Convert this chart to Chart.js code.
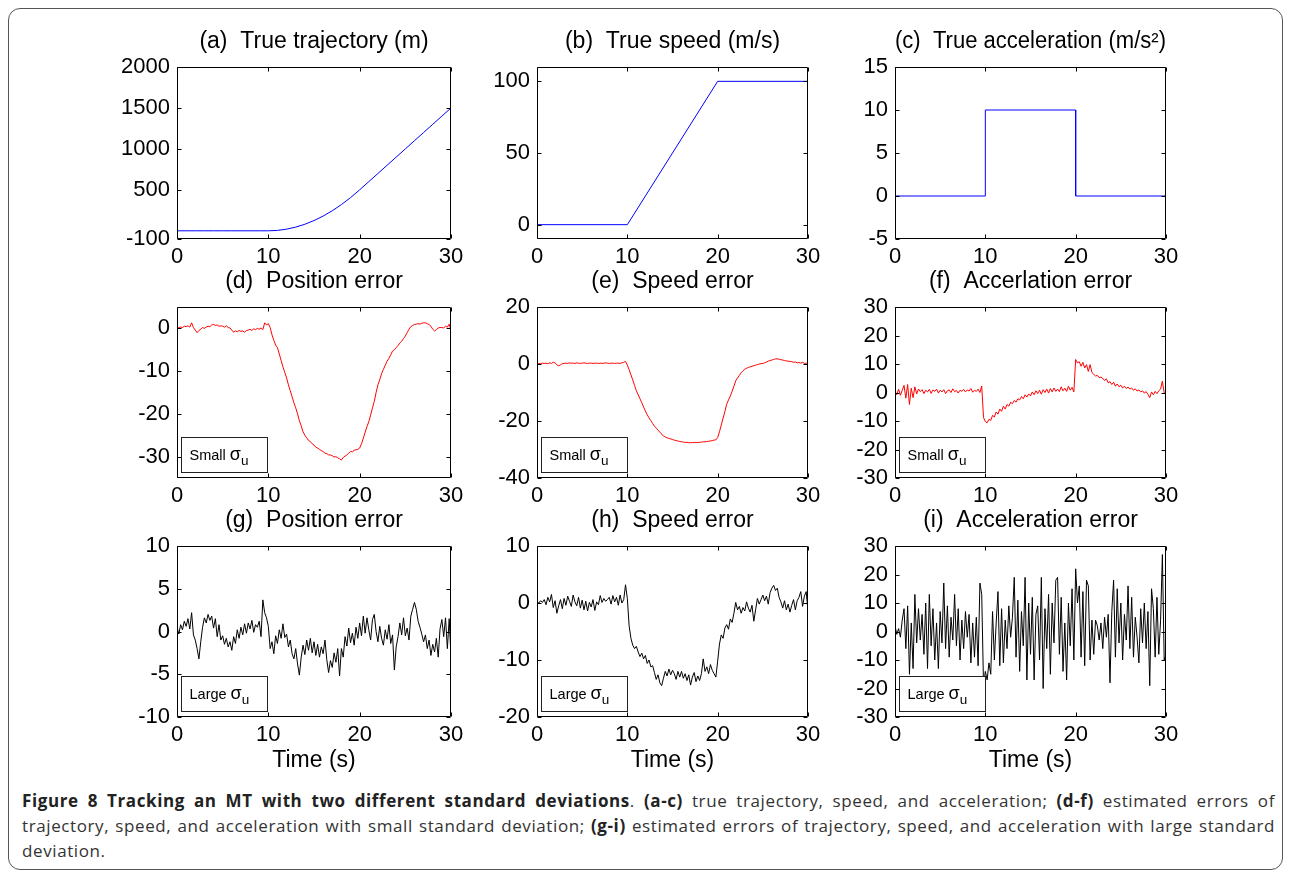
<!DOCTYPE html>
<html><head><meta charset="utf-8">
<script src="https://cdn.jsdelivr.net/npm/chart.js@4.4.1/dist/chart.umd.min.js"></script>
<style>
html,body{margin:0;padding:0;background:#fff;}
body{width:1289px;height:875px;position:relative;overflow:hidden;font-family:"Liberation Sans",Arial,sans-serif;}
#frame{position:absolute;left:8px;top:8px;width:1275px;height:862px;border:1px solid #555;border-radius:12px;box-sizing:border-box;}
canvas{position:absolute;}
#caption{position:absolute;left:22px;top:788px;width:1253px;font-family:"Open Sans",sans-serif;font-size:17px;letter-spacing:0.6px;line-height:25px;color:#333;}
#caption div{white-space:nowrap;text-align:justify;text-align-last:justify;}
#caption div.last{text-align-last:left;}
#caption b{color:#222;}
</style></head>
<body>
<div id="frame"></div>
<div id="caption">
<div><b>Figure 8 Tracking an MT with two different standard deviations</b>. <b>(a-c)</b> true trajectory, speed, and acceleration; <b>(d-f)</b> estimated errors of</div>
<div>trajectory, speed, and acceleration with small standard deviation; <b>(g-i)</b> estimated errors of trajectory, speed, and acceleration with large standard</div>
<div class="last">deviation.</div>
</div>
<script>
// ---------- DATA ----------
const X_TICKS = [0, 10, 20, 30];

const trajTime = [0,1,2,3,4,5,6,7,8,9,10,11,12,13,14,15,16,17,18,19,20,21,22,23,24,25,26,27,28,29,30];
const trajectory = [0,0,0,0,0,0,0,0,0,0,0,5,20,45,80,125,180,245,320,405,500,600,700,800,900,1000,1100,1200,1300,1400,1500];

const speedTime = [0, 10, 20, 30];
const speed = [0, 0, 100, 100];

const accelTime = [0, 10, 10, 20, 20, 30];
const accel = [0, 0, 10, 10, 0, 0];

// error series sampled every 0.2 s from 0 to 30 s (151 samples)
const sampleTime = Array.from({length: 151}, (_, i) => Math.round(i * 2) / 10);

const posErrSmall = [
 0.0,0.2,0.3,0.2,0.5, 0.4,0.6,0.3,1.3,0.2, -0.4,-1.0,-0.5,-0.2,0.2, 0.0,0.3,0.5,0.4,0.8,
 0.9,0.7,0.8,0.5,0.6, 0.5,0.3,0.6,0.2,0.1, -0.4,-0.9,-0.6,-0.8,-0.5, -0.7,-0.6,-0.9,-0.5,-0.4,
 -0.2,-0.5,-0.1,-0.3,0.0, -0.2,0.1,-0.3,1.3,0.8, 1.1,0.2,-1.5,-2.8,-3.9, -4.5,-6.0,-7.5,-9.0,-10.3,
 -11.6,-13.2,-14.6,-16.0,-17.4, -18.6,-20.0,-21.6,-22.8,-24.2, -25.0,-25.6,-26.2,-26.5,-27.0, -27.3,-27.8,-28.0,-28.3,-28.6,
 -28.8,-29.2,-29.3,-29.6,-29.6, -29.8,-30.1,-30.0,-30.3,-30.5, -30.8,-30.2,-29.9,-29.6,-29.2, -28.8,-28.9,-28.5,-28.4,-28.3,
 -28.0,-27.0,-25.7,-24.3,-23.0, -21.8,-20.3,-18.6,-17.1,-15.0, -13.2,-12.0,-10.6,-9.6,-8.6, -7.7,-7.0,-6.2,-5.3,-5.0,
 -4.5,-4.0,-3.4,-3.0,-2.4, -1.8,-1.0,-0.2,0.4,0.7, 0.9,1.0,1.1,1.0,1.2, 1.3,1.3,1.1,0.9,0.5,
 -0.2,-0.6,-0.3,0.1,0.2, 0.2,0.1,0.5,0.3,1.0, -0.5];

const speedErrSmall = [
 0.0,0.2,0.1,0.3,0.2, 0.3,0.1,0.4,0.2,0.6, 0.4,-0.3,-0.6,-0.3,0.1, 0.2,0.3,0.2,0.4,0.3,
 0.3,0.2,0.4,0.3,0.2, 0.3,0.4,0.3,0.2,0.3, 0.3,0.2,0.3,0.3,0.2, 0.3,0.2,0.3,0.4,0.3,
 0.2,0.3,0.3,0.2,0.3, 0.3,0.2,0.4,0.6,0.9, -0.4,-2.0,-3.8,-5.6,-7.5, -9.4,-10.8,-12.2,-13.6,-15.1,
 -16.5,-17.8,-18.9,-19.9,-20.9, -21.8,-22.5,-23.2,-23.9,-24.6, -25.3,-25.6,-25.9,-26.1,-26.3, -26.5,-26.7,-26.9,-27.0,-27.2,
 -27.3,-27.4,-27.5,-27.5,-27.6, -27.6,-27.6,-27.5,-27.6,-27.5, -27.5,-27.4,-27.3,-27.3,-27.2, -27.1,-27.0,-26.9,-26.7,-26.6,
 -25.8,-23.8,-21.4,-19.0,-16.7, -14.1,-12.6,-11.2,-9.6,-7.8, -5.9,-4.9,-4.0,-3.1,-2.4, -1.8,-1.5,-1.2,-1.0,-0.8,
 -0.6,-0.4,-0.2,0.0,0.1, 0.2,0.4,0.7,1.0,1.2, 1.4,1.6,1.8,1.8,1.7, 1.5,1.4,1.2,1.1,1.0,
 0.9,0.8,0.6,0.7,0.4, 0.5,0.3,0.6,0.2,0.3, 0.2];

const accErrSmall = [
 0.5,-0.8,1.2,-1.0,0.8, 2.5,-2.0,2.8,-4.2,1.5, -1.8,2.0,-0.5,1.2,0.3, 1.0,-0.4,0.8,0.2,1.1,
 -0.3,0.9,0.4,1.2,-0.2, 0.8,0.2,1.0,-0.4,0.6, 0.9,0.0,1.3,0.3,0.7, -0.2,0.8,0.4,1.1,0.2,
 0.9,0.5,1.4,0.1,0.8, 0.4,1.2,0.0,2.3,-8.8, -10.2,-10.6,-9.4,-9.8,-8.0, -8.6,-6.8,-7.6,-5.8,-6.6,
 -4.8,-5.8,-4.2,-4.8,-3.4, -3.9,-2.8,-3.4,-2.2,-2.6, -1.4,-2.2,-0.8,-1.6,-0.5, -1.2,0.2,-0.8,0.6,-0.4,
 0.8,-0.6,1.0,0.0,1.2, -0.2,1.4,0.2,1.6,0.4, 1.2,0.3,2.0,0.6,1.5, 0.4,2.2,0.8,1.8,0.2,
 11.6,10.4,10.8,9.2,10.6, 8.6,9.8,7.4,9.8,7.0, 6.4,5.8,6.0,5.2,5.4, 5.0,4.2,4.8,3.4,3.8,
 2.8,3.6,2.2,3.0,2.0, 2.6,1.6,2.2,1.4,1.9, 1.2,1.6,0.8,1.3,0.5, 0.9,0.2,0.6,-0.2,0.3,
 -0.6,-1.8,0.2,-0.8,0.4, -0.4,0.6,1.2,4.0,-0.2, -0.6];

const posErrLarge = [
 0.5,-0.3,0.8,0.2,1.2, 0.6,1.5,0.3,2.2,-0.4, -1.0,-2.0,-3.2,-1.2,0.5, 1.6,1.0,2.0,1.3,1.8,
 0.4,1.5,-0.6,0.8,-1.0, -0.5,-1.5,-0.8,-1.8,-1.2, -2.2,-0.6,-1.4,0.2,-0.8, 0.5,-0.4,0.9,-0.2,1.0,
 0.3,1.3,-0.1,0.8,0.5, 1.2,-0.6,3.7,2.2,1.6, 0.6,-2.0,-1.2,-2.6,-0.5, -1.4,0.2,-0.8,0.9,-0.7,
 -0.3,-1.8,-1.0,-2.6,-3.2, -2.0,-3.8,-5.1,-3.0,-1.6, -2.7,-1.0,-2.2,-0.8,-2.5, -1.2,-2.8,-1.5,-3.0,-1.8,
 -2.6,-1.0,-3.3,-4.8,-3.4, -4.2,-2.5,-3.6,-2.0,-5.2, -2.0,-3.0,-0.6,-1.7,0.4, -1.3,-0.2,-1.6,0.5,-0.8,
 1.0,-0.5,1.8,-0.2,1.6, 0.2,-1.0,1.4,2.0,0.0, -1.2,0.6,-0.8,-1.6,0.2, -0.9,0.8,-1.4,-0.4,-4.5,
 -1.8,-0.6,1.0,-0.4,1.6, -0.5,0.4,-1.0,1.8,2.6, 3.4,2.6,1.2,0.5,-0.3, -1.2,-0.4,-2.0,-1.0,-2.8,
 -1.5,-2.4,-0.8,-3.0,0.3, 1.4,-0.6,1.6,-2.0,1.5, -3.0];

const speedErrLarge = [
 0.2,0.0,0.4,0.1,0.6, -0.3,1.0,0.2,1.5,-0.8, 0.4,-1.8,-0.5,0.6,-1.0, 0.8,-0.4,1.2,0.3,-0.6,
 1.4,0.2,-0.5,1.0,-0.9, 0.5,-1.2,0.3,-1.4,0.1, -0.7,0.6,-1.3,0.2,-0.3, 1.3,0.1,0.8,0.3,0.6,
 1.0,-0.2,1.3,0.2,1.0, -0.4,1.4,0.0,0.6,3.2, 0.8,-4.0,-6.2,-7.4,-8.0, -7.6,-8.6,-9.4,-8.8,-9.8,
 -9.2,-10.6,-10.0,-11.2,-11.0, -12.2,-13.4,-12.6,-14.0,-14.5, -13.2,-12.0,-12.8,-11.6,-12.6, -11.8,-12.4,-13.4,-12.0,-13.0,
 -12.0,-13.2,-12.4,-13.6,-12.6, -14.4,-13.0,-12.2,-13.8,-12.8, -13.6,-12.4,-9.8,-12.0,-11.2, -12.4,-10.8,-11.8,-12.4,-13.0,
 -10.2,-7.2,-5.6,-6.2,-4.4, -3.8,-4.6,-2.8,-3.4,-1.8, 0.1,-1.2,-0.6,-1.8,-0.8, -1.4,0.2,-0.9,-1.6,-0.4,
 -3.2,-1.2,0.8,-0.2,0.6, 1.4,0.4,1.2,-0.2,1.8, 2.6,3.1,2.2,2.6,1.0, 0.2,-0.9,0.4,-1.2,-0.2,
 -1.6,-0.4,0.6,-1.2,0.4, 1.0,2.0,-0.6,1.2,2.0, -1.5];

const accErrLarge = [
 2,-1,1,-2,4, 8,-6,9,-15,3, -13,13,-4,8,-3, 6,-8,10,-13,13,
 -5,8,-10,3,-13, 7,-4,17,-6,9, -9,5,-3,13,-5, 8,-10,4,-6,7,
 -2,6,-11,3,-9, 5,-12,17,13,-19, -14,-17,-11,-15,7, -10,3,14,-12,8,
 -11,4,-6,9,-2, 5,19,-9,11,-14, 7,-5,19,-17,10, -8,12,-17,6,9,
 -10,19,-20,8,-6, 13,-15,10,-4,18, 19,-8,12,-14,3, -17,10,-5,15,-10,
 22,10,16,-9,14, -12,18,16,-10,4, -8,4,2,-3,3, -6,5,-2,6,-18,
 7,18,-9,15,-4, 10,-10,6,-3,16, -6,12,-9,5,-2, -11,8,-4,10,-6,
 7,-19,15,8,-9, 12,-8,4,27,-10, -8];

const yTicksA = [-100, 500, 1000, 1500, 2000];
const yTicksB = [0, 50, 100];
const yTicksC = [-5, 0, 5, 10, 15];
const yTicksD = [-30, -20, -10, 0];
const yTicksE = [-40, -20, 0, 20];
const yTicksF = [-30, -20, -10, 0, 10, 20, 30];
const yTicksG = [-10, -5, 0, 5, 10];
const yTicksH = [-20, -10, 0, 10];
const yTicksI = [-30, -20, -10, 0, 10, 20, 30];

// ---------- LAYOUT ----------
const FONT = '"Liberation Sans", Arial, sans-serif';
const COL_X = [177, 537, 895];
const COL_W = [274, 271, 271];
const ROW_Y = [67, 307, 546];
const ROW_H = [172, 171, 171];

const framePlugin = {
  id: 'mFrame',
  afterDatasetsDraw(chart) {
    const {ctx, chartArea: a, scales} = chart;
    const L = Math.round(a.left) + 0.5, R = Math.round(a.right) - 0.5;
    const T = Math.round(a.top) + 0.5, B = Math.round(a.bottom) - 0.5;
    ctx.save();
    ctx.strokeStyle = '#000';
    ctx.lineWidth = 1;
    ctx.beginPath();
    ctx.rect(L, T, R - L, B - T);
    const tl = 4;
    scales.x.ticks.forEach(t => {
      const px = Math.round(scales.x.getPixelForValue(t.value)) + 0.5;
      ctx.moveTo(px, B); ctx.lineTo(px, B - tl);
      ctx.moveTo(px, T); ctx.lineTo(px, T + tl);
    });
    scales.y.ticks.forEach(t => {
      const py = Math.round(scales.y.getPixelForValue(t.value)) + 0.5;
      ctx.moveTo(L, py); ctx.lineTo(L + tl, py);
      ctx.moveTo(R, py); ctx.lineTo(R - tl, py);
    });
    ctx.stroke();
    ctx.restore();
  }
};

const sigmaBoxPlugin = {
  id: 'sigmaBox',
  afterDraw(chart, args, opts) {
    if (!opts || !opts.label) return;
    const {ctx, chartArea: a} = chart;
    const x = Math.round(a.left) + 4.5, y = Math.round(a.bottom) - 40.5, w = 86, h = 35;
    ctx.save();
    ctx.fillStyle = '#fff';
    ctx.fillRect(x, y, w, h);
    ctx.strokeStyle = '#222';
    ctx.lineWidth = 1;
    ctx.strokeRect(x, y, w, h);
    ctx.fillStyle = '#000';
    ctx.textBaseline = 'alphabetic';
    ctx.font = '14.5px ' + FONT;
    const tx = x + 8, ty = y + 22;
    ctx.fillText(opts.label + ' ', tx, ty);
    let cx = tx + ctx.measureText(opts.label + ' ').width;
    ctx.font = '18px ' + FONT;
    ctx.fillText('\u03C3', cx, ty);
    cx += ctx.measureText('\u03C3').width;
    ctx.font = '13.5px ' + FONT;
    ctx.fillText('u', cx, ty + 5);
    ctx.restore();
  }
};

function makePanel(p) {
  const padL = 90, padT = 45, padR = 25;
  const padB = p.xTitle ? 63 : 40;
  const TS = 23;
  const titleBlock = TS * 1.2 + 12;
  const cv = document.createElement('canvas');
  cv.width = padL + p.w + padR;
  cv.height = padT + p.h + padB;
  cv.style.left = (p.x - padL) + 'px';
  cv.style.top = (p.y - padT) + 'px';
  document.body.appendChild(cv);
  const tickFont = {family: FONT, size: 22};
  new Chart(cv, {
    type: 'line',
    data: {datasets: [{
      data: p.xs.map((x, i) => ({x: x, y: p.ys[i]})),
      borderColor: p.color, borderWidth: 1, pointRadius: 0, tension: 0, fill: false
    }]},
    options: {
      responsive: false, animation: false, devicePixelRatio: 1,
      layout: {padding: {left: 0, right: padR, top: padT - titleBlock, bottom: 0}},
      plugins: {
        legend: {display: false}, tooltip: {enabled: false},
        title: {display: true, text: p.title, fullSize: false, color: '#000',
          font: {family: FONT, size: TS, weight: 'normal'}, padding: {top: 0, bottom: 12}},
        sigmaBox: {label: p.box || null}
      },
      scales: {
        x: {
          type: 'linear', min: 0, max: 30,
          afterBuildTicks: s => { s.ticks = X_TICKS.map(v => ({value: v})); },
          afterFit: s => { s.height = padB; },
          grid: {display: false, drawTicks: false}, border: {display: false},
          ticks: {padding: 5, font: tickFont, color: '#000', maxRotation: 0, autoSkip: false, callback: v => String(v)},
          title: p.xTitle ? {display: true, text: p.xTitle, color: '#000', font: {family: FONT, size: TS}, padding: {top: 0, bottom: 6}} : {display: false}
        },
        y: {
          type: 'linear', min: p.ymin, max: p.ymax,
          afterBuildTicks: s => { s.ticks = p.yticks.map(v => ({value: v})); },
          afterFit: s => { s.width = padL; },
          grid: {display: false, drawTicks: false}, border: {display: false},
          ticks: {padding: 7, font: tickFont, color: '#000', autoSkip: false, callback: v => String(v)}
        }
      }
    },
    plugins: [framePlugin, sigmaBoxPlugin]
  });
}

const panels = [
  {c:0, r:0, title:'(a)  True trajectory (m)', xs:trajTime, ys:trajectory, color:'#0000ff', ymin:-100, ymax:2000, yticks:yTicksA},
  {c:1, r:0, title:'(b)  True speed (m/s)', xs:speedTime, ys:speed, color:'#0000ff', ymin:-10, ymax:110, yticks:yTicksB},
  {c:2, r:0, title:'(c)  True acceleration (m/s\u00B2)', xs:accelTime, ys:accel, color:'#0000ff', ymin:-5, ymax:15, yticks:yTicksC},
  {c:0, r:1, title:'(d)  Position error', xs:sampleTime, ys:posErrSmall, color:'#ff0000', ymin:-35, ymax:5, yticks:yTicksD, box:'Small'},
  {c:1, r:1, title:'(e)  Speed error', xs:sampleTime, ys:speedErrSmall, color:'#ff0000', ymin:-40, ymax:20, yticks:yTicksE, box:'Small'},
  {c:2, r:1, title:'(f)  Accerlation error', xs:sampleTime, ys:accErrSmall, color:'#ff0000', ymin:-30, ymax:30, yticks:yTicksF, box:'Small'},
  {c:0, r:2, title:'(g)  Position error', xs:sampleTime, ys:posErrLarge, color:'#000000', ymin:-10, ymax:10, yticks:yTicksG, box:'Large', xTitle:'Time (s)'},
  {c:1, r:2, title:'(h)  Speed error', xs:sampleTime, ys:speedErrLarge, color:'#000000', ymin:-20, ymax:10, yticks:yTicksH, box:'Large', xTitle:'Time (s)'},
  {c:2, r:2, title:'(i)  Acceleration error', xs:sampleTime, ys:accErrLarge, color:'#000000', ymin:-30, ymax:30, yticks:yTicksI, box:'Large', xTitle:'Time (s)'}
];

panels.forEach(p => {
  p.x = COL_X[p.c]; p.w = COL_W[p.c];
  p.y = ROW_Y[p.r]; p.h = ROW_H[p.r];
  makePanel(p);
});
</script>
</body></html>
